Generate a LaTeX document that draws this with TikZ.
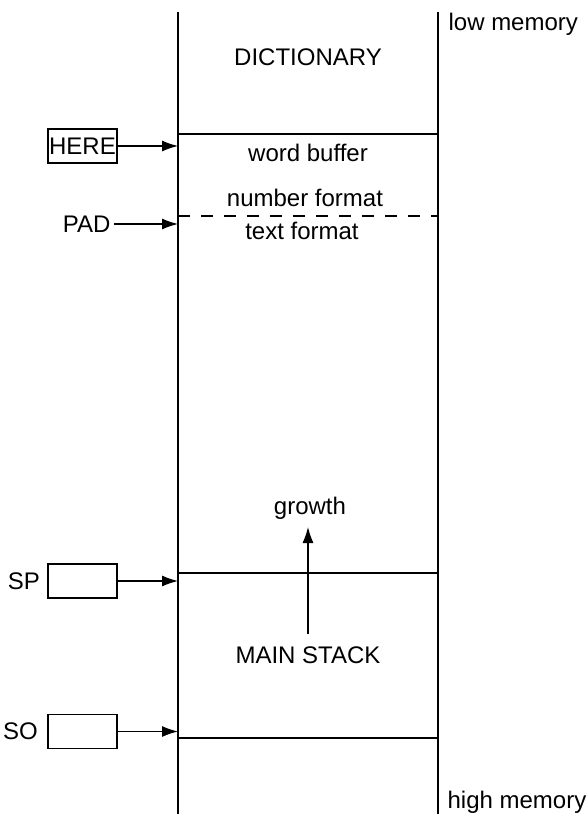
\documentclass[tikz,border=0pt]{standalone}
\usepackage{fontspec}
\setmainfont{Liberation Sans}
\usetikzlibrary{arrows.meta,positioning}

\begin{document}
\begin{tikzpicture}[x=1pt,y=-1pt,line width=1.2pt,
  lbl/.style={font=\fontsize{24}{28}\selectfont,inner sep=0pt},
  ptr/.style={-{Latex[length=16pt,width=11pt]}},
  regbox/.style={draw,line width=1.2pt,minimum width=69pt,minimum height=34pt,inner sep=0pt,font=\fontsize{24}{28}\selectfont}]
\useasboundingbox (0,0) rectangle (586,814);
% the memory column
\coordinate (lt) at (178,12); \coordinate (lb) at (178,814);
\coordinate (rt) at (438,12); \coordinate (rb) at (438,814);
\draw (lt) -- (lb);
\draw (rt) -- (rb);
\node[lbl,anchor=west] (low) at (448,24) {low memory};
\node[lbl,anchor=west] (high) at (447,802) {high memory};
% areas
\node[lbl] (dict) at (308,57) {DICTIONARY};
\coordinate (herel) at (178,134);
\draw (herel) -- (herel -| rt);
\node[lbl] (wbuf) at (308,153) {word buffer};
\node[lbl] (numf) at (305,198) {number format};
\coordinate (padl) at (178,216);
\draw[dash pattern=on 12pt off 11pt] (padl) -- (padl -| rt);
\node[lbl] (txtf) at (302,231) {text format};
\coordinate (spl) at (178,573);
\draw (spl) -- (spl -| rt);
\coordinate (sol) at (178,738);
\draw (sol) -- (sol -| rt);
\node[lbl] (growth) at (310,508) {growth};
\node[lbl] (mstack) at (308,655) {MAIN STACK};
\coordinate (gbot) at (308,634);
\coordinate (gtop) at (308,527);
\draw[ptr] (gbot) -- (gtop);
% pointers
\node[regbox] (here) at (82.5,146) {HERE};
\draw[ptr] (here.east) -- (here.east -| lt);
\node[lbl,anchor=east,inner xsep=3pt] (pad) at (114,224) {PAD};
\draw[ptr] (pad.east) -- (pad.east -| lt);
\node[regbox] (spb) at (82.5,581) {};
\node[lbl,left=7pt of spb] (sp) {SP};
\draw[ptr] (spb.east) -- (spb.east -| lt);
\node[regbox] (sob) at (82.5,731.5) {};
\node[lbl,left=9pt of sob] (so) {SO};
\draw[ptr] (sob.east) -- (sob.east -| lt);
\end{tikzpicture}
\end{document}
